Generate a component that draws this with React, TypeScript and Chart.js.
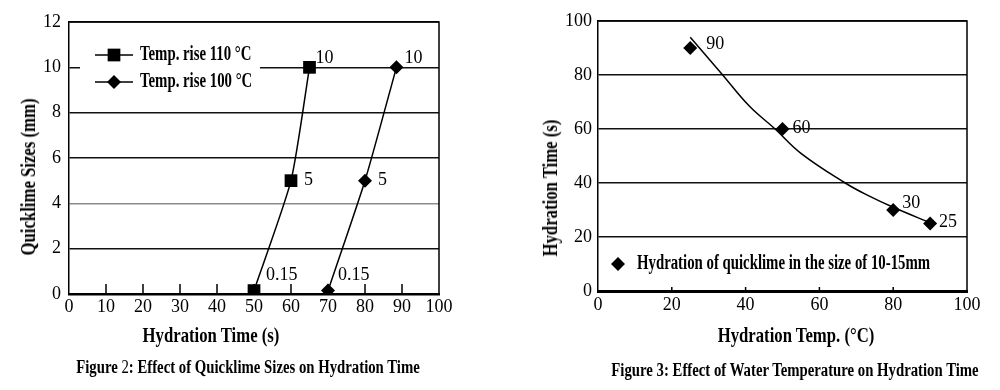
import React, { useEffect, useRef } from "react";
import { Chart, registerables } from "chart.js";

Chart.register(...registerables);

// ---------- Figure 2 data ----------
const fig2XMin = 0;
const fig2XMax = 100;
const fig2YMin = 0;
const fig2YMax = 12;
const rise110Label = "Temp. rise 110 °C";
const rise110Time = [50, 60, 65];
const rise110Size = [0.15, 5, 10];
const rise110Text = ["0.15", "5", "10"];
const rise100Label = "Temp. rise 100 °C";
const rise100Time = [70, 80, 88.5];
const rise100Size = [0.15, 5, 10];
const rise100Text = ["0.15", "5", "10"];

// ---------- Figure 3 data ----------
const fig3XMin = 0;
const fig3XMax = 100;
const fig3YMin = 0;
const fig3YMax = 100;
const hydLabel = "Hydration of quicklime in the size of 10-15mm";
const hydTemp = [25, 50, 80, 90];
const hydTime = [90, 60, 30, 25];
const hydText = ["90", "60", "30", "25"];
const trendTemp = [25, 33.5, 41, 48, 55, 67, 73, 80, 90.5];
const trendTime = [94, 80.5, 68.5, 60, 51, 40, 35.5, 31, 25];

// ---------- label offsets (style) ----------
const rise110TextOffset = [[12, -15], [13, 0], [6, -9]];
const rise100TextOffset = [[10, -15], [13, 0], [8, -9]];
const hydTextOffset = [[16, -4], [10, -1], [9, -7], [9, -1]];

const SERIF = "'Liberation Serif', 'Times New Roman', serif";
Chart.defaults.font.family = SERIF;
Chart.defaults.color = "#000";

function drawMarker(ctx: CanvasRenderingContext2D, style: string, x: number, y: number, r: number) {
  ctx.beginPath();
  if (style === "rect") {
    const s = Math.SQRT1_2 * r;
    ctx.rect(x - s, y - s, 2 * s, 2 * s);
  } else {
    ctx.moveTo(x - r, y);
    ctx.lineTo(x, y - r);
    ctx.lineTo(x + r, y);
    ctx.lineTo(x, y + r);
    ctx.closePath();
  }
  ctx.fillStyle = "#000";
  ctx.fill();
}

const framePlugin = {
  id: "frame",
  beforeDatasetsDraw(chart: any, _a: any, o: any) {
    const { ctx, chartArea: a } = chart;
    const xs = chart.scales.x;
    ctx.save();
    ctx.strokeStyle = "#000";
    ctx.lineWidth = o.lineWidth;
    ctx.beginPath();
    ctx.moveTo(a.left, a.top);
    ctx.lineTo(a.right, a.top);
    ctx.lineTo(a.right, a.bottom);
    ctx.stroke();
    ctx.lineWidth = o.tickWidth;
    ctx.beginPath();
    for (const t of xs.ticks) {
      const px = xs.getPixelForValue(t.value);
      if (px <= a.left + 1 || px >= a.right - 1) continue;
      ctx.moveTo(px, a.bottom);
      ctx.lineTo(px, a.bottom - o.tickLength);
    }
    ctx.stroke();
    ctx.restore();
  },
};

const boxLegendPlugin = {
  id: "boxLegend",
  beforeDatasetsDraw(chart: any, _a: any, o: any) {
    const ctx = chart.ctx as CanvasRenderingContext2D;
    ctx.save();
    if (o.box) {
      ctx.fillStyle = "#fff";
      ctx.fillRect(o.box[0], o.box[1], o.box[2], o.box[3]);
    }
    const rows: number[] = o.rows;
    rows.forEach((y, i) => {
      const ds = chart.data.datasets[i];
      if (o.lineStart != null) {
        ctx.strokeStyle = "#000";
        ctx.lineWidth = 1.5;
        ctx.beginPath();
        ctx.moveTo(o.lineStart, y);
        ctx.lineTo(o.lineEnd, y);
        ctx.stroke();
      }
      drawMarker(ctx, ds.pointStyle, o.markerX, y, ds.pointRadius);
      ctx.save();
      ctx.translate(o.textX, y);
      ctx.scale(o.scaleX, 1);
      ctx.fillStyle = "#000";
      ctx.font = o.font;
      ctx.textAlign = "left";
      ctx.textBaseline = "middle";
      ctx.fillText(ds.label, 0, 0);
      ctx.restore();
    });
    ctx.restore();
  },
};

const pointLabelPlugin = {
  id: "pointLabels",
  afterDatasetsDraw(chart: any, _a: any, o: any) {
    const ctx = chart.ctx as CanvasRenderingContext2D;
    ctx.save();
    ctx.font = o.font;
    ctx.fillStyle = "#000";
    ctx.textAlign = "left";
    ctx.textBaseline = "middle";
    chart.data.datasets.forEach((ds: any, i: number) => {
      if (!ds.pointText) return;
      const meta = chart.getDatasetMeta(i);
      meta.data.forEach((el: any, j: number) => {
        const off = ds.pointTextOffset[j];
        ctx.fillText(ds.pointText[j], el.x + off[0], el.y + off[1]);
      });
    });
    ctx.restore();
  },
};

const tickFont = { size: 18, family: SERIF };

function makeFig2(canvas: HTMLCanvasElement) {
  return new Chart(canvas, {
    type: "scatter",
    data: {
      datasets: [
        {
          label: rise110Label,
          data: rise110Time.map((x, i) => ({ x, y: rise110Size[i] })),
          showLine: true,
          borderColor: "#000",
          backgroundColor: "#000",
          borderWidth: 1.5,
          pointStyle: "rect",
          pointRadius: 9,
          pointBorderWidth: 0,
          tension: 0.2,
          pointText: rise110Text,
          pointTextOffset: rise110TextOffset,
        } as any,
        {
          label: rise100Label,
          data: rise100Time.map((x, i) => ({ x, y: rise100Size[i] })),
          showLine: true,
          borderColor: "#000",
          backgroundColor: "#000",
          borderWidth: 1.5,
          pointStyle: "rectRot",
          pointRadius: 7,
          pointBorderWidth: 0,
          tension: 0.2,
          pointText: rise100Text,
          pointTextOffset: rise100TextOffset,
        } as any,
      ],
    },
    options: {
      responsive: false,
      animation: false,
      layout: { padding: { left: 0, top: 22, right: 31, bottom: 0 } },
      scales: {
        x: {
          type: "linear",
          min: fig2XMin,
          max: fig2XMax,
          afterFit: (s: any) => { s.height = 96; },
          ticks: { stepSize: 10, autoSkip: false, maxRotation: 0, padding: 2, color: "#000", font: tickFont },
          grid: { display: false, drawTicks: false },
          border: { display: true, color: "#000", width: 2.5 },
        },
        y: {
          type: "linear",
          min: fig2YMin,
          max: fig2YMax,
          afterFit: (s: any) => { s.width = 69; },
          ticks: { stepSize: 2, padding: 8, color: "#000", font: tickFont },
          grid: {
            drawTicks: false,
            lineWidth: 1.5,
            color: (c: any) => (c.tick && c.tick.value === 4 ? "#8c8c8c" : "#111"),
          },
          border: { display: true, color: "#000", width: 1.5 },
        },
      },
      plugins: {
        legend: { display: false },
        tooltip: { enabled: false },
        frame: { lineWidth: 1.5, tickWidth: 1.5, tickLength: 10 },
        boxLegend: {
          box: [80, 40, 180, 57],
          lineStart: 95,
          lineEnd: 133,
          markerX: 114,
          textX: 140,
          rows: [55, 82],
          font: `bold 20px ${SERIF}`,
          scaleX: 0.74,
        },
        pointLabels: { font: `18px ${SERIF}` },
      } as any,
    },
    plugins: [framePlugin, boxLegendPlugin, pointLabelPlugin],
  } as any);
}

function makeFig3(canvas: HTMLCanvasElement) {
  return new Chart(canvas, {
    type: "scatter",
    data: {
      datasets: [
        {
          label: hydLabel,
          data: hydTemp.map((x, i) => ({ x, y: hydTime[i] })),
          showLine: false,
          borderColor: "#000",
          backgroundColor: "#000",
          pointStyle: "rectRot",
          pointRadius: 7,
          pointBorderWidth: 0,
          pointText: hydText,
          pointTextOffset: hydTextOffset,
        } as any,
        {
          label: "trend",
          data: trendTemp.map((x, i) => ({ x, y: trendTime[i] })),
          showLine: true,
          borderColor: "#000",
          borderWidth: 1.5,
          pointRadius: 0,
          tension: 0.4,
        } as any,
      ],
    },
    options: {
      responsive: false,
      animation: false,
      layout: { padding: { left: 0, top: 21, right: 33, bottom: 0 } },
      scales: {
        x: {
          type: "linear",
          min: fig3XMin,
          max: fig3XMax,
          afterFit: (s: any) => { s.height = 99; },
          ticks: { stepSize: 20, autoSkip: false, maxRotation: 0, padding: 3, color: "#000", font: tickFont },
          grid: { display: false, drawTicks: false },
          border: { display: true, color: "#000", width: 3 },
        },
        y: {
          type: "linear",
          min: fig3YMin,
          max: fig3YMax,
          afterFit: (s: any) => { s.width = 128; },
          ticks: { stepSize: 20, padding: 6, color: "#000", font: tickFont },
          grid: { drawTicks: false, lineWidth: 1.5, color: "#111" },
          border: { display: true, color: "#000", width: 1.5 },
        },
      },
      plugins: {
        legend: { display: false },
        tooltip: { enabled: false },
        frame: { lineWidth: 1.5, tickWidth: 1.5, tickLength: 4 },
        boxLegend: {
          box: null,
          lineStart: null,
          lineEnd: null,
          markerX: 148,
          textX: 167,
          rows: [264],
          font: `bold 20px ${SERIF}`,
          scaleX: 0.74,
        },
        pointLabels: { font: `18px ${SERIF}` },
      } as any,
    },
    plugins: [framePlugin, boxLegendPlugin, pointLabelPlugin],
  } as any);
}

const titleStyle: React.CSSProperties = {
  position: "absolute",
  fontFamily: SERIF,
  fontWeight: "bold",
  fontSize: 22,
  lineHeight: 1,
  whiteSpace: "nowrap",
  color: "#000",
};

const captionStyle: React.CSSProperties = {
  position: "absolute",
  fontFamily: SERIF,
  fontWeight: "bold",
  fontSize: 18,
  lineHeight: 1,
  whiteSpace: "nowrap",
  color: "#000",
  transform: "translate(-50%, -50%) scaleX(0.82)",
};

export default function App() {
  const ref2 = useRef<HTMLCanvasElement | null>(null);
  const ref3 = useRef<HTMLCanvasElement | null>(null);

  useEffect(() => {
    const c2 = makeFig2(ref2.current!);
    const c3 = makeFig3(ref3.current!);
    return () => {
      c2.destroy();
      c3.destroy();
    };
  }, []);

  return (
    <div style={{ position: "fixed", left: 0, top: 0, width: 1000, height: 390, background: "#fff", overflow: "hidden" }}>
      <canvas ref={ref2} width={470} height={390} style={{ position: "absolute", left: 0, top: 0, width: 470, height: 390 }} />
      <canvas ref={ref3} width={530} height={390} style={{ position: "absolute", left: 470, top: 0, width: 530, height: 390 }} />

      <div style={{ ...titleStyle, left: 28, top: 176.5, transform: "translate(-50%, -50%) rotate(-90deg) scaleX(0.76)" }}>Quicklime Sizes (mm)</div>
      <div style={{ ...titleStyle, left: 211, top: 335, transform: "translate(-50%, -50%) scaleX(0.76)" }}>Hydration Time (s)</div>
      <div style={{ ...captionStyle, left: 247.5, top: 367 }}>
        Figure <span style={{ fontWeight: "normal" }}>2</span>: Effect of Quicklime Sizes on Hydration Time
      </div>

      <div style={{ ...titleStyle, left: 550, top: 187.5, transform: "translate(-50%, -50%) rotate(-90deg) scaleX(0.76)" }}>Hydration Time (s)</div>
      <div style={{ ...titleStyle, left: 796, top: 335, transform: "translate(-50%, -50%) scaleX(0.76)" }}>Hydration Temp. (°C)</div>
      <div style={{ ...captionStyle, left: 795, top: 370 }}>Figure 3: Effect of Water Temperature on Hydration Time</div>
    </div>
  );
}
